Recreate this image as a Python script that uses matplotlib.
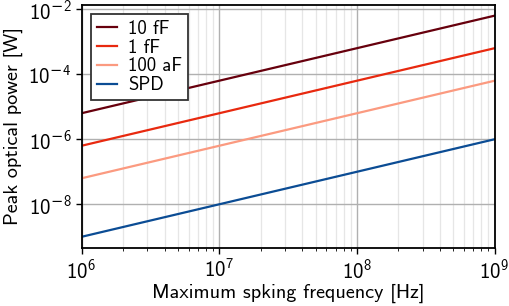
import numpy as np
import matplotlib
matplotlib.use("Agg")
import matplotlib.pyplot as plt
from matplotlib.ticker import FuncFormatter, NullLocator

plt.rcParams['font.family'] = ['cmss10', 'DejaVu Sans']
plt.rcParams['mathtext.fontset'] = 'custom'
plt.rcParams['mathtext.rm'] = 'cmss10'
plt.rcParams['mathtext.it'] = 'cmss10'
plt.rcParams['mathtext.cal'] = 'DejaVu Sans'  # only used for the minus sign
plt.rcParams['axes.unicode_minus'] = False

# spiking frequency [Hz]
freq = [1e6, 1e9]
# peak optical power [W] at the two ends
p_10fF = [6.3e-6, 6.3e-3]
p_1fF = [6.3e-7, 6.3e-4]
p_100aF = [6.3e-8, 6.3e-5]
p_spd = [1e-9, 1e-6]

labels = ['10 fF', '1 fF', '100 aF', 'SPD']
colors = ['#67000d', '#e8290f', '#fb9a80', '#0b4c94']


def pow10(v, pos):
    e = int(round(np.log10(v)))
    if e < 0:
        return r'$\mathrm{10}^{\mathcal{-}\mathrm{%d}}$' % (-e)
    return r'$\mathrm{10}^{\mathrm{%d}}$' % e


fig, ax = plt.subplots(figsize=(5.1, 3.06), dpi=100)
for y, lab, c in zip([p_10fF, p_1fF, p_100aF, p_spd], labels, colors):
    ax.plot(freq, y, color=c, lw=1.6, label=lab)

ax.set_xscale('log')
ax.set_yscale('log')
ax.set_xlim(1e6, 1e9)
ax.set_yticks([1e-8, 1e-6, 1e-4, 1e-2])
ax.yaxis.set_minor_locator(NullLocator())
ax.xaxis.set_major_formatter(FuncFormatter(pow10))
ax.yaxis.set_major_formatter(FuncFormatter(pow10))

ax.grid(True, which='major', color='#b0b0b0', lw=1.0)
ax.grid(True, which='minor', axis='x', color='#e6e6e6', lw=0.9)
ax.set_axisbelow(True)
for s in ax.spines.values():
    s.set_linewidth(1.3)

ax.tick_params(which='major', labelsize=15, length=4, width=1)
ax.tick_params(which='minor', length=2, width=0.6)
ax.set_xlabel('Maximum spking frequency [Hz]', fontsize=14.5, labelpad=1)
ax.set_ylabel('Peak optical power [W]', fontsize=14.5, labelpad=4)

leg = ax.legend(loc='upper left', fontsize=13.5, fancybox=False, framealpha=1,
                edgecolor='#333333', handlelength=1.1, handletextpad=0.6,
                borderpad=0.3, labelspacing=0.05)
leg.get_frame().set_linewidth(1.3)

fig.subplots_adjust(left=0.16, right=0.97, top=0.985, bottom=0.19)
fig.savefig('out.png', dpi=100)
